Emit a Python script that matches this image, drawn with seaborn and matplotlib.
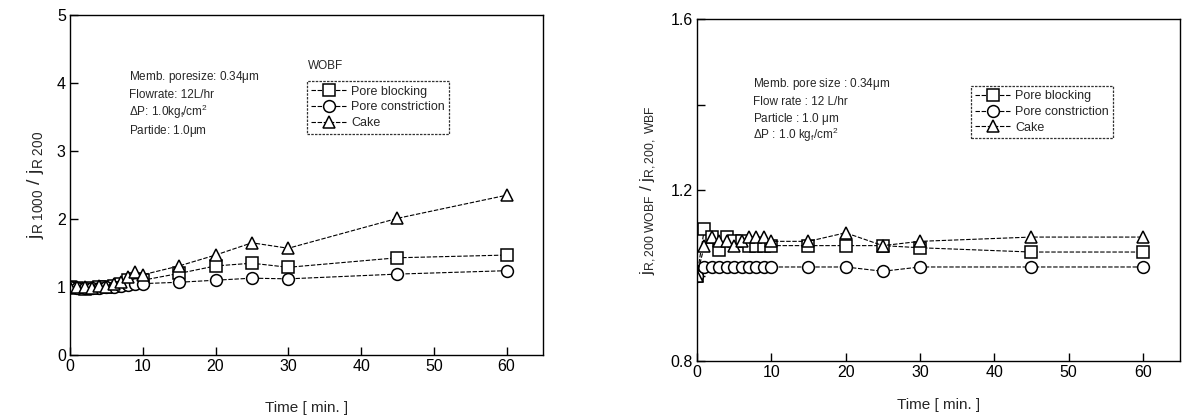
import matplotlib
matplotlib.use("Agg")
import matplotlib.pyplot as plt
import seaborn as sns
import pandas as pd

# ---- Left panel: j_R1000 / j_R200 vs time ----
time_left = [0, 1, 2, 3, 4, 5, 6, 7, 8, 9, 10, 15, 20, 25, 30, 45, 60]
left_blocking = [1.0, 0.98, 0.97, 0.98, 1.0, 1.0, 1.02, 1.05, 1.1, 1.12, 1.1,
                 1.2, 1.31, 1.35, 1.29, 1.43, 1.47]
left_constriction = [1.0, 0.98, 0.98, 0.98, 0.99, 1.0, 1.0, 1.02, 1.03, 1.04, 1.05,
                     1.07, 1.1, 1.13, 1.12, 1.19, 1.24]
left_cake = [1.0, 1.0, 1.0, 0.98, 1.02, 1.0, 1.05, 1.08, 1.15, 1.22, 1.18,
             1.31, 1.47, 1.65, 1.57, 2.01, 2.35]

# ---- Right panel: j_R200,WOBF / j_R200,WBF vs time ----
time_right = [0, 1, 2, 3, 4, 5, 6, 7, 8, 9, 10, 15, 20, 25, 30, 45, 60]
right_blocking = [1.0, 1.11, 1.09, 1.06, 1.09, 1.08, 1.08, 1.07, 1.07, 1.07, 1.07,
                  1.07, 1.07, 1.07, 1.065, 1.055, 1.055]
right_constriction = [1.0, 1.02, 1.02, 1.02, 1.02, 1.02, 1.02, 1.02, 1.02, 1.02, 1.02,
                      1.02, 1.02, 1.01, 1.02, 1.02, 1.02]
right_cake = [1.0, 1.07, 1.09, 1.08, 1.08, 1.07, 1.08, 1.09, 1.09, 1.09, 1.08,
              1.08, 1.10, 1.07, 1.08, 1.09, 1.09]

series_names = ["Pore blocking", "Pore constriction", "Cake"]
series_markers = {"Pore blocking": "s", "Pore constriction": "o", "Cake": "^"}

sns.set_theme(style="white")
plt.rcParams["font.family"] = ["Liberation Sans", "DejaVu Sans"]
plt.rcParams["mathtext.fontset"] = "custom"
plt.rcParams["mathtext.rm"] = "Liberation Sans"
plt.rcParams["mathtext.it"] = "Liberation Sans"

fig = plt.figure(figsize=(11.9, 4.19), dpi=100)
ax1 = fig.add_axes([0.0588, 0.1527, 0.3975, 0.8115])
ax2 = fig.add_axes([0.5857, 0.1384, 0.4060, 0.8160])


def draw_panel(ax, t, values, xpad):
    for name, vals in zip(series_names, values):
        df = pd.DataFrame({"t": t, "v": vals})
        sns.lineplot(data=df, x="t", y="v", ax=ax, color="black",
                     marker=series_markers[name], markersize=8.5,
                     markerfacecolor="white", markeredgecolor="black",
                     markeredgewidth=1.1, linewidth=0.8,
                     linestyle=(0, (4, 1.5)), label=name)
    for sp in ax.spines.values():
        sp.set_color("black")
        sp.set_linewidth(1.0)
    ax.tick_params(direction="in", length=6, width=1, colors="black",
                   labelsize=11.5, bottom=True, left=True, pad=3)
    ax.set_xlim(0, 65)
    ax.set_xticks([0, 10, 20, 30, 40, 50, 60])
    ax.set_xlabel("Time [ min. ]", fontsize=11, labelpad=xpad)


def style_legend(ax, anchor):
    leg = ax.legend(loc="upper left", bbox_to_anchor=anchor,
                    fontsize=9, frameon=True, fancybox=False, handlelength=2.8,
                    borderpad=0.35, labelspacing=0.3, handletextpad=0.4,
                    borderaxespad=0)
    frame = leg.get_frame()
    frame.set_edgecolor("black")
    frame.set_linestyle((0, (2, 1)))
    frame.set_linewidth(0.9)
    return leg


draw_panel(ax1, time_left, [left_blocking, left_constriction, left_cake], 19)
ax1.set_ylim(0, 5)
ax1.set_yticks([0, 1, 2, 3, 4, 5])
ax1.set_ylabel(r"$\mathregular{j_{R\ 1000}}$ / $\mathregular{j_{R\ 200}}$",
               fontsize=14, labelpad=8)
style_legend(ax1, (0.501, 0.805))
ax1.text(0.503, 0.84, "WOBF", transform=ax1.transAxes, fontsize=8.5)
left_notes = ["Memb. poresize: 0.34$\\mu$m", "Flowrate: 12L/hr",
              "$\\Delta$P: 1.0kg$_f$/cm$^2$", "Partide: 1.0$\\mu$m"]
for i, s in enumerate(left_notes):
    ax1.text(0.125, 0.81 - i * 0.053, s, transform=ax1.transAxes, fontsize=8.5)

draw_panel(ax2, time_right, [right_blocking, right_constriction, right_cake], 13)
ax2.set_ylim(0.8, 1.6)
ax2.set_yticks([0.8, 1.0, 1.2, 1.4, 1.6])
ax2.set_yticklabels(["0.8", "", "1.2", "", "1.6"])
ax2.set_ylabel(r"$\mathregular{j_{R,200\ WOBF}}$ / $\mathregular{j_{R,200,\ WBF}}$",
               fontsize=12.5, labelpad=8)
style_legend(ax2, (0.567, 0.805))
right_notes = ["Memb. pore size : 0.34$\\mu$m", "Flow rate : 12 L/hr",
               "Particle : 1.0 $\\mu$m", "$\\Delta$P : 1.0 kg$_f$/cm$^2$"]
for i, s in enumerate(right_notes):
    ax2.text(0.115, 0.80 - i * 0.05, s, transform=ax2.transAxes, fontsize=8.5)

fig.savefig("out.png", dpi=100, facecolor="white")
